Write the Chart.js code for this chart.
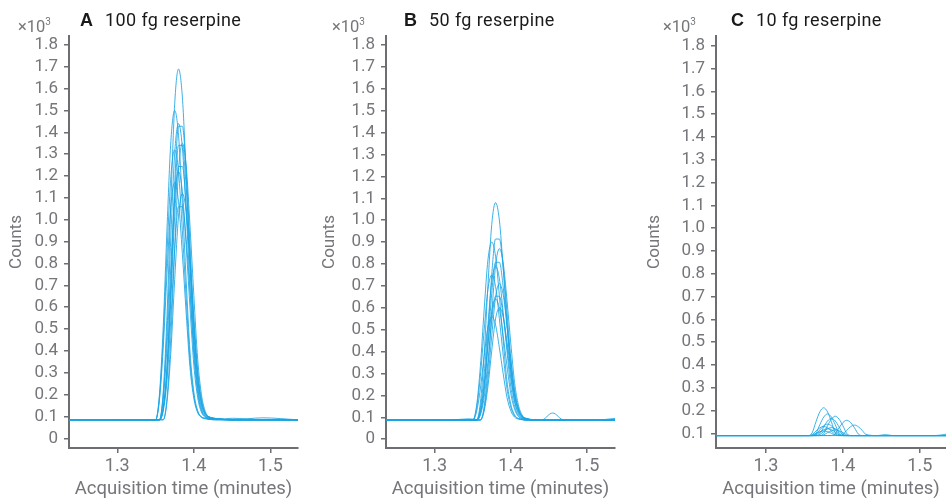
<!DOCTYPE html>
<html>
<head>
<meta charset="utf-8">
<script src="https://cdn.jsdelivr.net/npm/chart.js@4.4.1/dist/chart.umd.min.js"></script>
<style>
  body { margin: 0; background: #fff; }
  #wrap { position: relative; width: 946px; height: 500px; font-family: Roboto, sans-serif; }
  .panel { position: absolute; top: 0; height: 500px; }
  .mult { position: absolute; top: 13px; font-size: 16.5px; color: #74767a; line-height: 18px; }
  .mult sup { font-size: 10px; }
  .ttl { position: absolute; top: 10px; font-size: 18px; letter-spacing: 0.4px; color: #1a1a1a; white-space: nowrap; line-height: 20px; }
  .ttl b { font-family: "Liberation Sans", Arial, sans-serif; font-size: 18px; letter-spacing: 0; margin-right: 12px; }
</style>
</head>
<body>
<div id="wrap">
  <canvas id="chartA" class="panel" style="left:0px" width="305" height="500"></canvas>
  <canvas id="chartB" class="panel" style="left:313px" width="310" height="500"></canvas>
  <canvas id="chartC" class="panel" style="left:638px" width="308" height="500"></canvas>
  <div class="mult" style="left:18px">×10<sup>3</sup></div>
  <div class="mult" style="left:332px">×10<sup>3</sup></div>
  <div class="mult" style="left:663px">×10<sup>3</sup></div>
  <div class="ttl" style="left:80px"><b>A</b>100 fg reserpine</div>
  <div class="ttl" style="left:404px"><b>B</b>50 fg reserpine</div>
  <div class="ttl" style="left:731px"><b>C</b>10 fg reserpine</div>
</div>
<script>
// tick labels
const xTicks = [1.3, 1.4, 1.5];
const yTicksAB = [0, 0.1, 0.2, 0.3, 0.4, 0.5, 0.6, 0.7, 0.8, 0.9, 1.0, 1.1, 1.2, 1.3, 1.4, 1.5, 1.6, 1.7, 1.8];
const yTicksC = [0.1, 0.2, 0.3, 0.4, 0.5, 0.6, 0.7, 0.8, 0.9, 1.0, 1.1, 1.2, 1.3, 1.4, 1.5, 1.6, 1.7, 1.8];

// A: 100 fg, counts x10^3 per replicate injection
const timeA = [1.237, 1.30, 1.35, 1.355, 1.36, 1.365, 1.37, 1.375, 1.38, 1.385, 1.39, 1.395, 1.40, 1.405, 1.41, 1.415, 1.42, 1.43, 1.45, 1.49, 1.536];
const countsA = [
  [0.085,0.085,0.085,0.085,0.213,0.567,1.080,1.530,1.690,1.562,1.209,0.807,0.438,0.229,0.133,0.101,0.093,0.088,0.085,0.085,0.085],
  [0.085,0.085,0.085,0.198,0.510,0.962,1.359,1.500,1.387,1.076,0.722,0.396,0.212,0.127,0.099,0.092,0.088,0.086,0.085,0.085,0.085],
  [0.085,0.085,0.085,0.085,0.140,0.334,0.722,1.165,1.428,1.428,1.221,0.888,0.542,0.293,0.168,0.113,0.099,0.090,0.085,0.085,0.085],
  [0.085,0.085,0.085,0.085,0.193,0.492,0.925,1.305,1.440,1.332,1.034,0.695,0.383,0.207,0.126,0.099,0.092,0.087,0.092,0.085,0.085],
  [0.085,0.085,0.085,0.085,0.137,0.318,0.681,1.095,1.341,1.341,1.147,0.836,0.512,0.279,0.163,0.111,0.098,0.090,0.085,0.085,0.085],
  [0.085,0.085,0.085,0.085,0.085,0.186,0.465,0.869,1.224,1.350,1.249,0.971,0.654,0.363,0.199,0.123,0.098,0.091,0.085,0.085,0.085],
  [0.085,0.085,0.085,0.184,0.456,0.851,1.197,1.320,1.221,0.950,0.641,0.357,0.196,0.122,0.097,0.091,0.087,0.085,0.085,0.085,0.085],
  [0.085,0.085,0.085,0.085,0.133,0.300,0.635,1.017,1.244,1.244,1.065,0.778,0.479,0.264,0.157,0.109,0.097,0.090,0.085,0.085,0.085],
  [0.085,0.085,0.085,0.085,0.176,0.426,0.789,1.107,1.220,1.129,0.880,0.596,0.335,0.187,0.119,0.096,0.091,0.087,0.085,0.094,0.085],
  [0.085,0.085,0.085,0.172,0.411,0.758,1.062,1.170,1.083,0.845,0.573,0.324,0.183,0.118,0.096,0.090,0.087,0.085,0.085,0.085,0.085],
  [0.085,0.085,0.085,0.085,0.085,0.168,0.396,0.727,1.017,1.120,1.037,0.810,0.551,0.313,0.178,0.116,0.095,0.090,0.085,0.085,0.085],
  [0.085,0.085,0.085,0.085,0.125,0.266,0.547,0.869,1.060,1.060,0.909,0.668,0.417,0.236,0.145,0.105,0.095,0.089,0.085,0.085,0.085]
];

// B: 50 fg
const timeB = [1.236, 1.30, 1.33, 1.345, 1.35, 1.355, 1.36, 1.365, 1.37, 1.375, 1.38, 1.385, 1.39, 1.395, 1.40, 1.405, 1.41, 1.415, 1.42, 1.44, 1.455, 1.47, 1.51, 1.537];
const countsB = [
  [0.087,0.087,0.087,0.087,0.087,0.087,0.166,0.385,0.703,0.981,1.080,1.001,0.782,0.534,0.305,0.176,0.117,0.097,0.092,0.087,0.087,0.087,0.087,0.087],
  [0.087,0.087,0.087,0.087,0.087,0.087,0.121,0.241,0.479,0.752,0.914,0.914,0.786,0.582,0.368,0.215,0.138,0.104,0.096,0.087,0.087,0.087,0.087,0.087],
  [0.087,0.087,0.087,0.087,0.087,0.152,0.331,0.591,0.819,0.900,0.835,0.656,0.453,0.266,0.160,0.111,0.095,0.091,0.087,0.087,0.087,0.087,0.087,0.095],
  [0.087,0.087,0.087,0.087,0.087,0.087,0.087,0.150,0.322,0.572,0.792,0.870,0.807,0.635,0.439,0.259,0.157,0.110,0.095,0.087,0.087,0.087,0.087,0.087],
  [0.087,0.087,0.087,0.087,0.087,0.087,0.117,0.221,0.429,0.667,0.808,0.808,0.696,0.518,0.332,0.198,0.132,0.102,0.094,0.087,0.087,0.087,0.087,0.087],
  [0.087,0.087,0.087,0.087,0.087,0.087,0.143,0.298,0.523,0.720,0.790,0.734,0.579,0.403,0.242,0.150,0.108,0.094,0.091,0.087,0.087,0.087,0.087,0.087],
  [0.087,0.087,0.087,0.087,0.087,0.140,0.286,0.498,0.684,0.750,0.697,0.551,0.385,0.233,0.147,0.107,0.094,0.090,0.087,0.087,0.087,0.087,0.087,0.087],
  [0.087,0.087,0.087,0.087,0.087,0.087,0.087,0.137,0.274,0.473,0.648,0.710,0.660,0.523,0.367,0.224,0.143,0.106,0.093,0.087,0.087,0.087,0.087,0.087],
  [0.087,0.087,0.087,0.087,0.087,0.087,0.110,0.192,0.355,0.542,0.653,0.653,0.565,0.425,0.279,0.174,0.122,0.099,0.093,0.087,0.087,0.087,0.087,0.087],
  [0.087,0.087,0.087,0.087,0.087,0.087,0.131,0.253,0.430,0.585,0.640,0.596,0.474,0.336,0.209,0.137,0.104,0.093,0.090,0.087,0.120,0.087,0.087,0.087],
  [0.087,0.087,0.090,0.093,0.092,0.090,0.089,0.128,0.241,0.405,0.549,0.600,0.559,0.446,0.318,0.200,0.133,0.102,0.092,0.087,0.087,0.087,0.087,0.087],
  [0.087,0.087,0.087,0.087,0.087,0.125,0.229,0.380,0.513,0.560,0.522,0.418,0.300,0.191,0.130,0.101,0.092,0.089,0.087,0.087,0.087,0.087,0.087,0.087]
];

// C: 10 fg
const timeC = [1.235, 1.30, 1.35, 1.355, 1.36, 1.365, 1.37, 1.375, 1.38, 1.385, 1.39, 1.395, 1.40, 1.405, 1.41, 1.415, 1.42, 1.425, 1.43, 1.445, 1.455, 1.465, 1.52, 1.534];
const countsC = [
  [0.09,0.09,0.09,0.09,0.102,0.151,0.194,0.212,0.194,0.151,0.102,0.09,0.09,0.09,0.09,0.09,0.09,0.09,0.09,0.09,0.09,0.09,0.09,0.09],
  [0.09,0.09,0.09,0.09,0.09,0.100,0.138,0.171,0.185,0.171,0.138,0.100,0.09,0.09,0.09,0.09,0.09,0.09,0.09,0.09,0.09,0.09,0.09,0.09],
  [0.09,0.09,0.09,0.09,0.09,0.09,0.09,0.099,0.133,0.162,0.175,0.162,0.133,0.099,0.09,0.09,0.09,0.09,0.09,0.09,0.09,0.09,0.09,0.09],
  [0.09,0.09,0.09,0.09,0.09,0.09,0.098,0.128,0.154,0.165,0.154,0.128,0.098,0.09,0.09,0.09,0.09,0.09,0.09,0.09,0.09,0.09,0.09,0.09],
  [0.09,0.09,0.09,0.09,0.09,0.09,0.09,0.09,0.09,0.09,0.097,0.124,0.147,0.157,0.147,0.124,0.097,0.09,0.09,0.09,0.09,0.09,0.09,0.09],
  [0.09,0.09,0.09,0.09,0.09,0.095,0.115,0.133,0.140,0.133,0.115,0.095,0.09,0.09,0.09,0.09,0.09,0.09,0.09,0.09,0.09,0.09,0.09,0.09],
  [0.09,0.09,0.09,0.09,0.09,0.09,0.09,0.09,0.09,0.09,0.09,0.09,0.095,0.113,0.129,0.136,0.129,0.113,0.095,0.09,0.09,0.09,0.09,0.09],
  [0.09,0.09,0.09,0.09,0.094,0.110,0.124,0.130,0.124,0.110,0.094,0.09,0.09,0.09,0.09,0.09,0.09,0.09,0.09,0.09,0.09,0.09,0.09,0.09],
  [0.09,0.09,0.09,0.09,0.09,0.09,0.094,0.108,0.120,0.125,0.120,0.108,0.094,0.09,0.09,0.09,0.09,0.09,0.09,0.09,0.09,0.09,0.09,0.09],
  [0.09,0.09,0.09,0.09,0.09,0.093,0.105,0.116,0.120,0.116,0.105,0.093,0.09,0.09,0.09,0.09,0.09,0.09,0.09,0.09,0.09,0.09,0.09,0.09],
  [0.09,0.09,0.09,0.09,0.09,0.09,0.09,0.093,0.103,0.111,0.115,0.111,0.103,0.093,0.09,0.09,0.09,0.09,0.09,0.09,0.09,0.09,0.09,0.09],
  [0.09,0.09,0.09,0.09,0.092,0.100,0.107,0.110,0.107,0.100,0.092,0.09,0.09,0.09,0.09,0.09,0.09,0.09,0.09,0.09,0.094,0.09,0.09,0.096]
];

var lineColor = "rgba(26, 165, 228, 0.85)";
var axisColor = "#6d6e71";
var textColor = "#74767a";

function makeChart(id, times, runs, o) {
  var ctx = document.getElementById(id);
  return new Chart(ctx, {
    type: "line",
    data: {
      datasets: runs.map(function (r) {
        return {
          data: r.map(function (v, i) { return { x: times[i], y: v }; }),
          borderColor: lineColor,
          borderWidth: 1,
          pointRadius: 0,
          fill: false,
          cubicInterpolationMode: "monotone"
        };
      })
    },
    options: {
      responsive: false,
      animation: false,
      layout: { padding: { top: 36, right: o.padRight, left: 0, bottom: 0 } },
      plugins: { legend: { display: false }, tooltip: { enabled: false } },
      scales: {
        x: {
          type: "linear",
          min: o.xMin,
          max: o.xMax,
          afterBuildTicks: function (s) { s.ticks = xTicks.map(function (v) { return { value: v }; }); },
          afterFit: function (s) { s.height = 52; },
          ticks: {
            color: textColor,
            font: { family: "Roboto", size: 18 },
            padding: 3,
            maxRotation: 0,
            autoSkip: false,
            callback: function (v) { return v.toFixed(1); }
          },
          grid: { drawOnChartArea: false, drawTicks: true, tickLength: 5, color: axisColor, lineWidth: 1.5 },
          border: { display: true, color: axisColor, width: 2 },
          title: {
            display: true,
            text: "Acquisition time (minutes)",
            color: textColor,
            font: { family: "Roboto", size: 18.5 },
            padding: { top: 0, bottom: 0 }
          }
        },
        y: {
          min: o.yMin,
          max: o.yMax,
          afterBuildTicks: function (s) { s.ticks = o.yTicks.map(function (v) { return { value: v }; }); },
          afterFit: function (s) { s.width = o.yWidth; },
          ticks: {
            color: textColor,
            font: { family: "Roboto", size: 17 },
            padding: 6,
            autoSkip: false,
            callback: function (v) { return v === 0 ? "0" : v.toFixed(1); }
          },
          grid: { drawOnChartArea: false, drawTicks: true, tickLength: 5, color: axisColor, lineWidth: 1.5 },
          border: { display: true, color: axisColor, width: 2 },
          title: {
            display: true,
            text: "Counts",
            color: textColor,
            font: { family: "Roboto", size: 17 },
            padding: { top: 7, bottom: 0 }
          }
        }
      }
    }
  });
}

makeChart("chartA", timeA, countsA, { xMin: 1.237, xMax: 1.536, yMin: -0.044, yMax: 1.841, yTicks: yTicksAB, yWidth: 69, padRight: 7 });
makeChart("chartB", timeB, countsB, { xMin: 1.236, xMax: 1.537, yMin: -0.040, yMax: 1.841, yTicks: yTicksAB, yWidth: 73, padRight: 8 });
makeChart("chartC", timeC, countsC, { xMin: 1.235, xMax: 1.534, yMin: 0.0355, yMax: 1.8425, yTicks: yTicksC, yWidth: 78, padRight: 0 });
</script>
</body>
</html>
